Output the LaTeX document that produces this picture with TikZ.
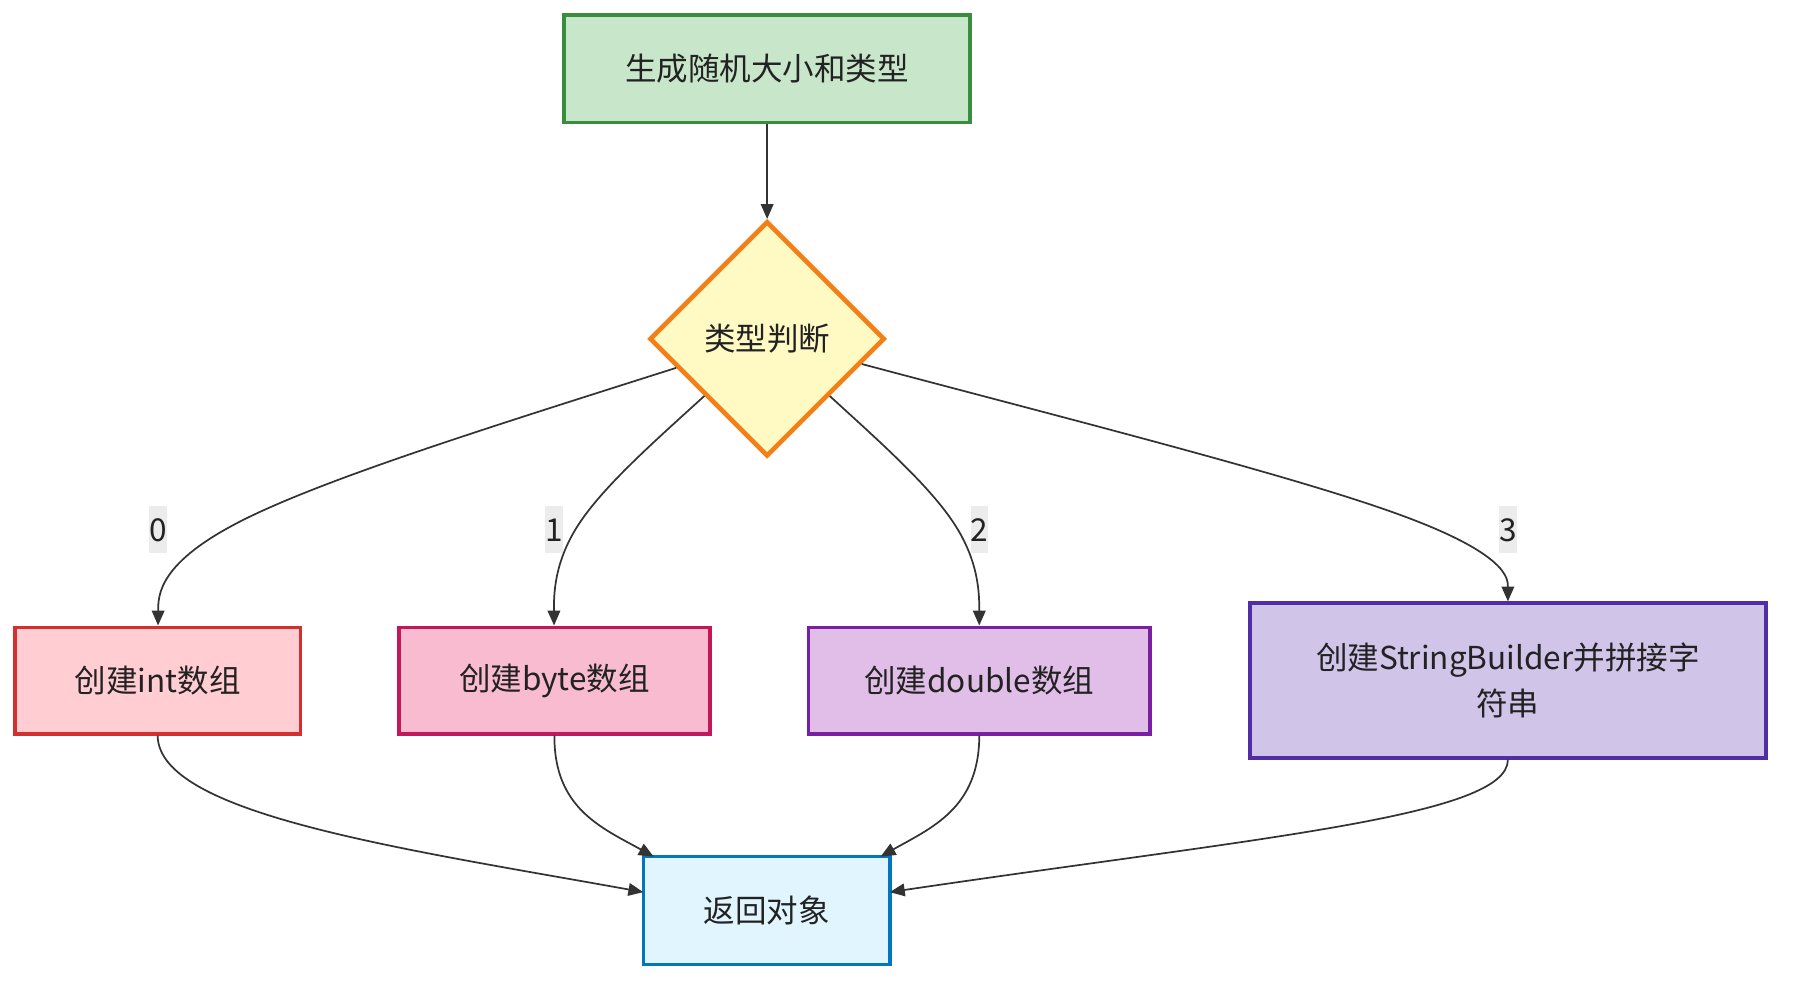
\documentclass[tikz,border=0pt]{standalone}
\usepackage{fontspec}
\setmainfont{Noto Sans CJK SC}
\usetikzlibrary{arrows.meta,shapes.geometric}
\definecolor{linec}{HTML}{333333}
\definecolor{txt}{HTML}{222222}
\definecolor{lblbg}{HTML}{ECECEC}
\tikzset{
  box/.style={draw, line width=3bp, minimum height=93bp, inner sep=0pt, align=center, text=txt, font=\fontsize{27.5bp}{40bp}\selectfont},
  arr/.style={draw=linec, line width=1.5bp, -{Triangle[length=13bp,width=11bp]}},
  lbl/.style={fill=lblbg, minimum width=14bp, minimum height=41bp, inner sep=0pt, text=txt, font=\fontsize{27.5bp}{33bp}\selectfont}
}
\begin{document}
\begin{tikzpicture}[x=1bp,y=-1bp]
\useasboundingbox[fill=white] (0,0) rectangle (1568,861.6);
\node[box, draw={rgb,255:red,56;green,142;blue,60}, fill={rgb,255:red,200;green,230;blue,201}, minimum width=354bp, minimum height=94bp] (start) at (669,60) {生成随机大小和类型};
\node[diamond, draw={rgb,255:red,245;green,127;blue,23}, line width=4bp, fill={rgb,255:red,255;green,249;blue,196}, minimum width=205bp, minimum height=205bp, inner sep=0pt, text=txt, font=\fontsize{27.5bp}{33bp}\selectfont] (dia) at (669,295.5) {类型判断};
\node[box, draw={rgb,255:red,211;green,47;blue,47}, fill={rgb,255:red,255;green,205;blue,210}, minimum width=249bp] (int) at (137.5,593.5) {创建int数组};
\node[box, draw={rgb,255:red,194;green,24;blue,91}, fill={rgb,255:red,248;green,187;blue,208}, minimum width=271bp] (byte) at (483.5,593.5) {创建byte数组};
\node[box, draw={rgb,255:red,123;green,31;blue,162}, fill={rgb,255:red,225;green,190;blue,231}, minimum width=298bp] (dbl) at (854,593.5) {创建double数组};
\node[box, draw={rgb,255:red,81;green,45;blue,168}, fill={rgb,255:red,209;green,196;blue,233}, minimum width=450bp, minimum height=135bp] (sb) at (1315,593.5) {创建StringBuilder并拼接字\\符串};
\node[box, draw={rgb,255:red,2;green,119;blue,189}, fill={rgb,255:red,225;green,245;blue,254}, minimum width=215bp, minimum height=94bp] (ret) at (668.5,794) {返回对象};

\draw[arr] (start) -- (dia);

\draw[arr] (dia) .. controls (439.3,368.7) and (288.7,415.3) .. (213.3,452.8) .. controls (138,490.3) and (138,518.7) .. (int);
\draw[arr] (dia) .. controls (570.3,385.3) and (526.7,423.7) .. (504.8,457) .. controls (483,490.3) and (483,518.7) .. (byte);
\draw[arr] (dia) .. controls (767.3,385.3) and (810.7,423.7) .. (832.3,457) .. controls (854,490.3) and (854,518.7) .. (dbl);
\draw[arr] (dia) .. controls (939,367.3) and (1127,414.7) .. (1221,449) .. controls (1315,483.3) and (1315,504.7) .. (sb);

\node[lbl] (l0) at (138,462) {0};
\node[lbl] (l1) at (483,462) {1};
\node[lbl] (l2) at (854,462) {2};
\node[lbl] (l3) at (1315,462) {3};

\coordinate (retL) at (561,778);
\coordinate (retR) at (776,778);
\coordinate (retTL) at (570,747);
\coordinate (retTR) at (768,747);
\draw[arr] (int.south) .. controls (138,710) and (350,740) .. (retL);
\draw[arr] (byte.south) .. controls (483,705) and (525,722) .. (retTL);
\draw[arr] (dbl.south) .. controls (854,705) and (812,722) .. (retTR);
\draw[arr] (sb.south) .. controls (1315,712) and (1100,730) .. (retR);
\end{tikzpicture}
\end{document}
